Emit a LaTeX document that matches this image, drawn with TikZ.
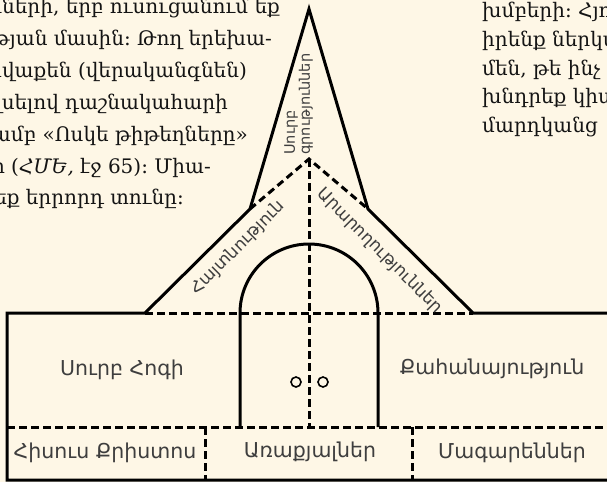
\documentclass[tikz,border=0pt]{standalone}
\usepackage{fontspec}
\newfontfamily\armsans{DejaVu Sans}
\newfontfamily\armserif{DejaVu Serif}

\tikzset{
  outline/.style={line width=3pt},
  dashline/.style={line width=3pt, dash pattern=on 7.5pt off 4.5pt},
  lbl/.style={font=\armsans\fontsize{20.5}{24}\selectfont, text=labelgray, inner sep=0pt},
  slopelbl/.style={font=\armsans\fontsize{17}{19}\selectfont, text=labelgray, inner sep=0pt},
  spirelbl/.style={font=\armsans\fontsize{14.5}{13}\selectfont, text=labelgray, inner sep=0pt},
  bodytext/.style={font=\armserif\fontsize{20}{24}\selectfont, text=inkblack, inner sep=0pt},
  knob/.style={circle, draw, line width=1.6pt, minimum size=10pt, inner sep=0pt}
}

\begin{document}
\begin{tikzpicture}[x=1pt,y=-1pt]

% Colors
\definecolor{paper}{RGB}{254,247,230}
\definecolor{labelgray}{RGB}{62,62,62}
\definecolor{inkblack}{RGB}{20,20,20}

% Page
\fill[paper] (0,0) rectangle (607,482);
\useasboundingbox (0,0) rectangle (607,482);
\clip (0,0) rectangle (607,482);

% Body text, left column
\foreach \i/\x/\y/\t in {1/280/13/{որների, երբ ուսուցանում եք},
                         2/272/45/{ության մասին։ Թող երեխա-},
                         3/247/77/{ավաքեն (վերականգնեն)},
                         4/228/109/{լսելով դաշնակահարի},
                         5/248/141/{մամբ «Ոսկե թիթեղները»},
                         6/211/173/{գր (\textit{ՀՄԵ,} էջ 65)։ Միա-},
                         7/184/204/{կեք երրորդ տունը։}} {
    \node[bodytext, anchor=base east] (L\i) at (\x,\y) {\t};
}

% Body text, right column
\foreach \i/\y/\t in {1/17/{խմբերի։ Հյու},
                      2/46/{իրենք ներկա},
                      3/75/{մեն, թե ինչ},
                      4/103/{խնդրեք կիս},
                      5/132/{մարդկանց}} {
    \node[bodytext, anchor=base west] (R\i) at (482,\y) {\t};
}

% Outline points
\coordinate (apex) at (309,9);
\coordinate (inner) at (309,159);
\coordinate (spireL) at (250,209);
\coordinate (spireR) at (368,209);
\coordinate (eaveL) at (145,313);
\coordinate (eaveR) at (473,313);
\coordinate (wallTL) at (7,313);
\coordinate (wallML) at (7,427);
\coordinate (wallBL) at (7,480);
\coordinate (wallTR) at (620,313);
\coordinate (wallMR) at (620,427);
\coordinate (wallBR) at (620,480);
\coordinate (floor) at (309,427);

% Building
\draw[outline] (wallTR) -- (eaveR) -- (spireR) -- (apex) -- (spireL) -- (eaveL) -- (wallTL) -- (wallBL) -- (wallBR);
\draw[outline] (240,427) -- (240,313) arc[start angle=180, end angle=360, radius=69] -- (378,427);

% Dashed partitions
\draw[dashline] (eaveL) -- (eaveR);
\draw[dashline] (wallML) -- (wallMR);
\draw[dashline] (spireL) -- (inner) -- (spireR);
\draw[dashline] (inner) -- (floor);
\draw[dashline] (205,427) -- (205,480);
\draw[dashline] (412,427) -- (412,480);

% Door knobs
\node[knob] (knobL) at (296,382) {};
\node[knob] (knobR) at (323,382) {};

% Labels
\node[lbl, anchor=base] (spirit) at (122,375) {Սուրբ Հոգի};
\node[lbl, anchor=base] (priesthood) at (492,374) {Քահանայություն};
\node[lbl, anchor=base] (christ) at (105,458) {Հիսուս Քրիստոս};
\node[lbl, anchor=base] (apostles) at (310,457) {Առաքյալներ};
\node[lbl, anchor=base] (prophets) at (512,458) {Մագարեններ};
\node[slopelbl, rotate=45] (revelation) at (238,248) {Հայտնություն};
\node[slopelbl, rotate=-45] (ordinances) at (380,251) {Արարողություններ};
\node[spirelbl, rotate=90, anchor=west, align=left] (scriptures) at (298.5,155) {Սուրբ\\գրություններ};

\end{tikzpicture}
\end{document}
